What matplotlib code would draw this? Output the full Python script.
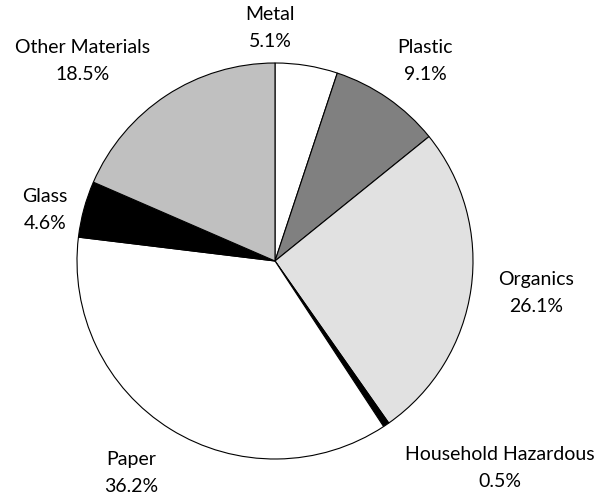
import matplotlib
matplotlib.use('Agg')
import matplotlib.pyplot as plt

# waste composition shares, clockwise from 12 o'clock
categories = ['Metal', 'Plastic', 'Organics', 'Household Hazardous', 'Paper', 'Glass', 'Other Materials']
shares = [5.1, 9.1, 26.1, 0.5, 36.2, 4.6, 18.5]
colors = ['#ffffff', '#808080', '#e1e1e1', '#000000', '#ffffff', '#000000', '#c0c0c0']

# label block centre (pixel x, pixel y from top) for each category
label_xy = {
    'Metal': (270, 28),
    'Plastic': (425, 61),
    'Organics': (536, 293),
    'Household Hazardous': (500, 468),
    'Paper': (131, 473),
    'Glass': (45, 210),
    'Other Materials': (83, 61),
}

W, H = 602, 494
fig = plt.figure(figsize=(W / 100, H / 100), dpi=100)
ax = fig.add_axes([0, 0, 1, 1])

ax.pie(shares, colors=colors, startangle=90, counterclock=False,
       center=(275, H - 261), radius=198, frame=True,
       wedgeprops=dict(edgecolor='black', linewidth=0.8))
ax.set_xlim(0, W)
ax.set_ylim(0, H)
ax.set_aspect('equal')
ax.axis('off')

for name, val in zip(categories, shares):
    x, y = label_xy[name]
    ax.text(x, H - y, f'{name}\n{val:.1f}%', ha='center', va='center',
            fontsize=14, family='Lato', linespacing=1.65)

fig.savefig('out.png', dpi=100)
